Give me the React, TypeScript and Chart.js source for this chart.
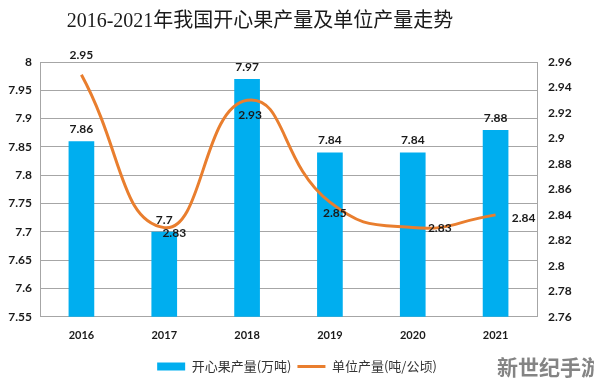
import React, { useEffect, useRef } from 'react';
import { Chart, registerables } from 'chart.js';

Chart.register(...registerables);

const years = ['2016', '2017', '2018', '2019', '2020', '2021'];
const outputWanTon = [7.86, 7.7, 7.97, 7.84, 7.84, 7.88];
const yieldPerHa = [2.95, 2.83, 2.93, 2.85, 2.83, 2.84];
const leftAxis = { min: 7.55, max: 8, step: 0.05 };
const rightAxis = { min: 2.76, max: 2.96, step: 0.02 };
const titleText = '2016-2021年我国开心果产量及单位产量走势';
const barLabel = '开心果产量(万吨)';
const lineLabel = '单位产量(吨/公顷)';
const watermark = '新世纪手游';

// label offsets (style only) relative to each line point
const lineLabelOffsets: [number, number][] = [
  [0, -20], [10, 6], [3, 15], [5, 11], [27, 1], [28, 3],
];

const BLUE = '#00AEEF';
const ORANGE = '#E97E2E';
const fmt = (v: number) => String(Number(v.toFixed(2)));

const labelPlugin = {
  id: 'customLabels',
  afterDatasetsDraw(chart: any) {
    const ctx = chart.ctx;
    ctx.save();
    ctx.font = 'bold 12px Lato, "Noto Sans", sans-serif';
    ctx.fillStyle = '#1a1a1a';
    ctx.textAlign = 'center';
    ctx.textBaseline = 'middle';
    const barMeta = chart.getDatasetMeta(1);
    barMeta.data.forEach((el: any, i: number) => {
      ctx.fillText(fmt(outputWanTon[i]), el.x, el.y - 12);
    });
    const lineMeta = chart.getDatasetMeta(0);
    lineMeta.data.forEach((el: any, i: number) => {
      const [dx, dy] = lineLabelOffsets[i];
      ctx.fillText(fmt(yieldPerHa[i]), el.x + dx, el.y + dy);
    });
    ctx.restore();
  },
  afterDraw(chart: any) {
    const ctx = chart.ctx;
    ctx.save();
    ctx.font = '20px "Liberation Serif", "Noto Sans CJK SC", serif';
    ctx.fillStyle = '#1a1a1a';
    ctx.textAlign = 'center';
    ctx.textBaseline = 'middle';
    ctx.fillText(titleText, 260, 22);
    ctx.font = 'bold 21px "Noto Sans CJK SC", sans-serif';
    ctx.fillStyle = 'rgba(110,110,110,0.85)';
    ctx.textAlign = 'left';
    ctx.fillText(watermark, 497, 367);
    ctx.restore();
  },
};

export default function App() {
  const ref = useRef<HTMLCanvasElement | null>(null);
  useEffect(() => {
    document.body.style.margin = '0';
    const canvas = ref.current;
    if (!canvas) return;
    const chart = new Chart(canvas, {
      type: 'bar',
      data: {
        labels: years,
        datasets: [
          {
            type: 'line',
            label: lineLabel,
            data: yieldPerHa,
            yAxisID: 'y1',
            borderColor: ORANGE,
            backgroundColor: ORANGE,
            borderWidth: 3,
            pointRadius: 0,
            tension: 0.5,
            order: 0,
          } as any,
          {
            type: 'bar',
            label: barLabel,
            data: outputWanTon,
            yAxisID: 'y',
            backgroundColor: BLUE,
            borderWidth: 0,
            categoryPercentage: 1,
            barPercentage: 0.31,
            order: 1,
          } as any,
        ],
      },
      options: {
        animation: false,
        responsive: false,
        maintainAspectRatio: false,
        layout: { padding: { top: 62, bottom: 1, left: 0, right: 0 } },
        plugins: {
          title: { display: false },
          tooltip: { enabled: false },
          legend: {
            display: true,
            position: 'bottom',
            labels: {
              usePointStyle: true,
              pointStyleWidth: 28,
              boxHeight: 8,
              padding: 6,
              color: '#333',
              font: { size: 13, family: '"Noto Sans CJK SC", sans-serif' },
              generateLabels: () => [
                {
                  text: barLabel,
                  fillStyle: BLUE,
                  strokeStyle: BLUE,
                  lineWidth: 0,
                  pointStyle: 'rect',
                  datasetIndex: 1,
                  fontColor: '#333',
                },
                {
                  text: lineLabel,
                  fillStyle: ORANGE,
                  strokeStyle: ORANGE,
                  lineWidth: 3,
                  pointStyle: 'line',
                  datasetIndex: 0,
                  fontColor: '#333',
                },
              ] as any,
            },
          },
        },
        scales: {
          x: {
            grid: { display: false, drawTicks: false },
            border: { display: true, color: '#A6A6A6' },
            ticks: {
              padding: 12,
              color: '#1a1a1a',
              font: { size: 11, weight: 'bold', family: 'Lato, "Noto Sans", sans-serif' },
            },
          },
          y: {
            position: 'left',
            min: leftAxis.min,
            max: leftAxis.max,
            grid: { color: '#A6A6A6', drawTicks: false },
            border: { display: true, color: '#A6A6A6' },
            ticks: {
              stepSize: leftAxis.step,
              padding: 8,
              color: '#1a1a1a',
              font: { size: 12, weight: 'bold', family: 'Lato, "Noto Sans", sans-serif' },
              callback: (v: any) => fmt(Number(v)),
            },
            afterFit: (s: any) => { s.width = 40; },
          },
          y1: {
            position: 'right',
            min: rightAxis.min,
            max: rightAxis.max,
            grid: { display: false, drawTicks: false },
            border: { display: true, color: '#A6A6A6' },
            ticks: {
              stepSize: rightAxis.step,
              padding: 11,
              color: '#1a1a1a',
              font: { size: 12, weight: 'bold', family: 'Lato, "Noto Sans", sans-serif' },
              callback: (v: any) => fmt(Number(v)),
            },
            afterFit: (s: any) => { s.width = 57; },
          },
        },
      },
      plugins: [labelPlugin],
    });
    return () => chart.destroy();
  }, []);
  return (
    <div style={{ width: 594, height: 384, background: '#fff' }}>
      <canvas ref={ref} width={594} height={384} style={{ display: 'block' }} />
    </div>
  );
}
